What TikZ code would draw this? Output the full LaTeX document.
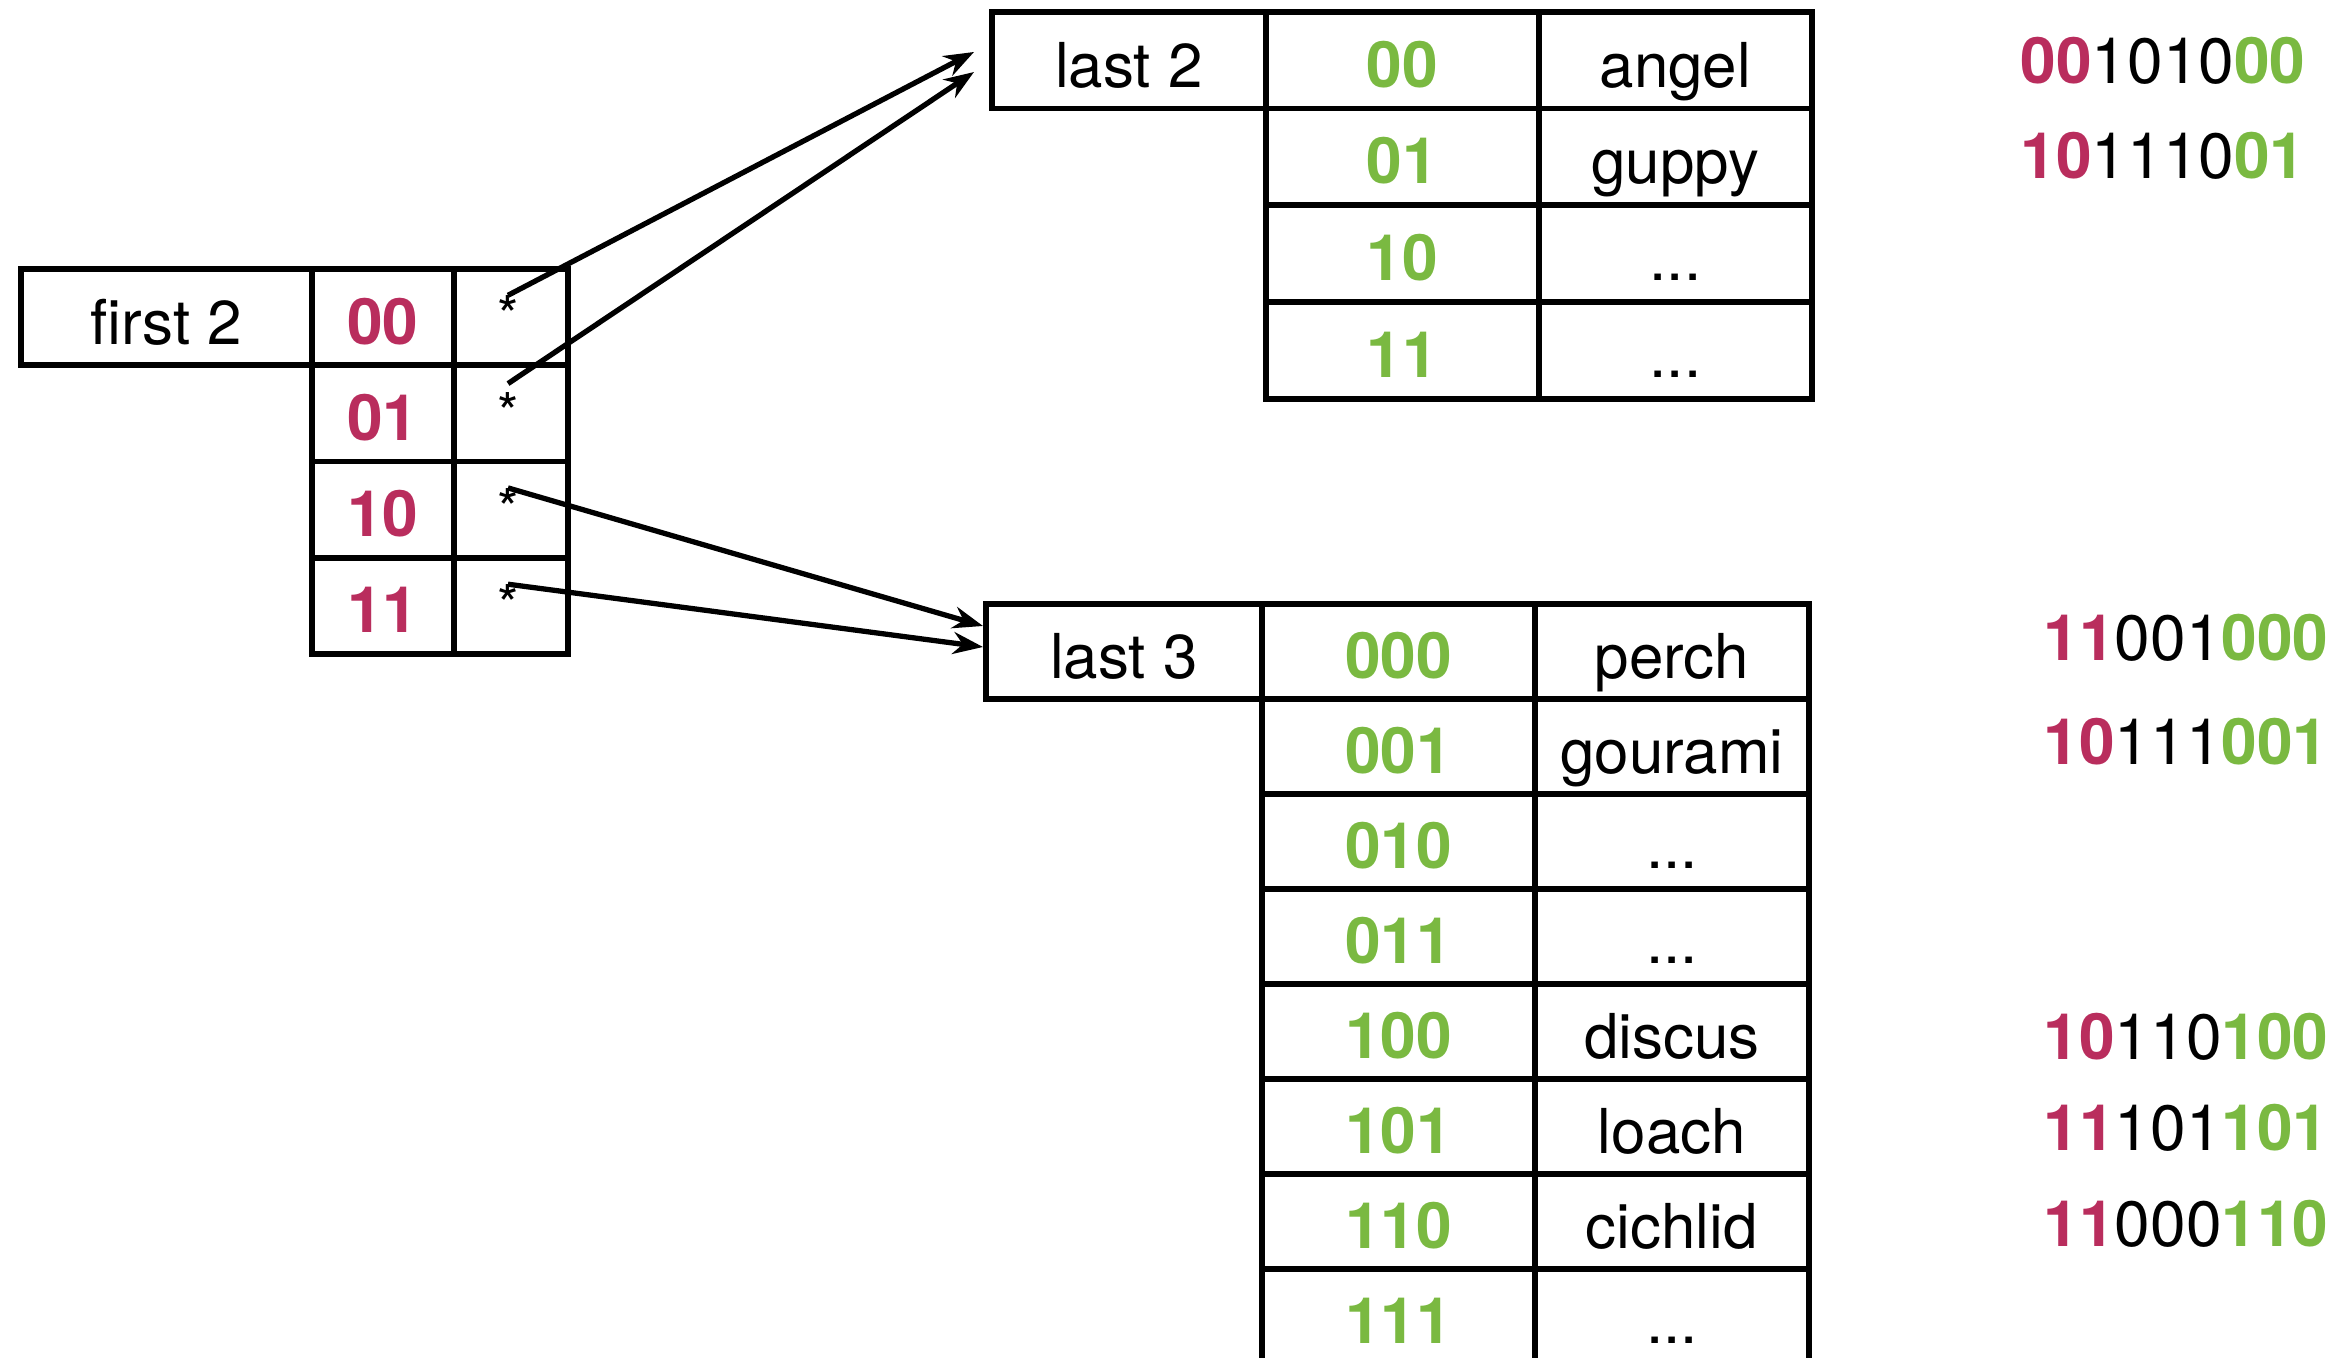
\documentclass[tikz,border=0pt]{standalone}
\usepackage{fontspec}
\setmainfont{TeX Gyre Heros}
\usetikzlibrary{arrows.meta,calc}
\definecolor{keyred}{HTML}{B92D5D}
\definecolor{keygreen}{HTML}{7AB941}
\newcommand\wordsz{\fontsize{17.6pt}{20pt}\selectfont}
\newcommand\digitsz{\fontsize{18.2pt}{21pt}\selectfont}
\newcommand\hi[2]{\textcolor{#1}{\bfseries #2}}
\newcommand\etcdots{...}

\begin{document}
\begin{tikzpicture}[x=0.01cm, y=-0.01cm,
  tcell/.style={draw, line width=1.6pt, inner sep=0pt, anchor=north west,
                text height=0.72cm, text depth=0.18cm, font=\wordsz},
  redkey/.style={tcell, font=\digitsz\bfseries, text=keyred},
  greenkey/.style={tcell, font=\digitsz\bfseries, text=keygreen},
  star/.style={anchor=base, inner sep=0pt, font=\fontsize{15.6pt}{18pt}\selectfont},
  ptr/.style={line width=1.5pt, -{Stealth[length=0.3cm, width=0.22cm]}},
  code/.style={anchor=base west, inner sep=0pt, font=\digitsz}]

\useasboundingbox (0,0) rectangle (2350,1358);

% directory indexed by the first two bits
\node[tcell, minimum width=2.91cm, minimum height=0.963cm] (first) at (18,266) {first 2};
\foreach \k [count=\i from 0] in {00,01,10,11} {
  \node[redkey, minimum width=1.42cm, minimum height=0.963cm] (k\i) at (309,{266+96.3*\i}) {\k};
  \node[tcell, minimum width=1.14cm, minimum height=0.963cm] (p\i) at (451,{266+96.3*\i}) {};
  \node[star] (s\i) at (508,{336+96.3*\i}) {*};
}

% bucket table indexed by the last two bits
\node[tcell, minimum width=2.74cm, minimum height=0.9675cm] (last2) at (989,9) {last 2};
\foreach \k/\v [count=\i from 0] in {00/angel,01/guppy,10/\etcdots,11/\etcdots} {
  \node[greenkey, minimum width=2.73cm, minimum height=0.9675cm] (tk\i) at (1263,{9+96.75*\i}) {\k};
  \node[tcell, minimum width=2.73cm, minimum height=0.9675cm] (tv\i) at (1536,{9+96.75*\i}) {\v};
}

% bucket table indexed by the last three bits
\node[tcell, minimum width=2.76cm, minimum height=0.95cm] (last3) at (983,601) {last 3};
\foreach \k/\v [count=\i from 0] in {000/perch,001/gourami,010/\etcdots,011/\etcdots,100/discus,101/loach,110/cichlid,111/\etcdots} {
  \node[greenkey, minimum width=2.73cm, minimum height=0.95cm] (bk\i) at (1259,{601+95*\i}) {\k};
  \node[tcell, minimum width=2.74cm, minimum height=0.95cm] (bv\i) at (1532,{601+95*\i}) {\v};
}

% pointers from the directory to the buckets
\coordinate (in1) at (974,52);
\coordinate (in2) at (974,72);
\coordinate (in3) at (983,626);
\coordinate (in4) at (983,647);
\draw[ptr] (s0.north) -- (in1);
\draw[ptr] ([yshift=0.08cm]s1.north) -- (in2);
\draw[ptr] (s2.north) -- (in3);
\draw[ptr] (s3.north) -- (in4);

% hashed keys
\node[code] (c1) at (2020,84)   {\hi{keyred}{00}1010\hi{keygreen}{00}};
\node[code] (c2) at (2020,179)  {\hi{keyred}{10}1110\hi{keygreen}{01}};
\node[code] (c3) at (2043,661)  {\hi{keyred}{11}001\hi{keygreen}{000}};
\node[code] (c4) at (2043,765)  {\hi{keyred}{10}111\hi{keygreen}{001}};
\node[code] (c5) at (2043,1060) {\hi{keyred}{10}110\hi{keygreen}{100}};
\node[code] (c6) at (2043,1150) {\hi{keyred}{11}101\hi{keygreen}{101}};
\node[code] (c7) at (2043,1246) {\hi{keyred}{11}000\hi{keygreen}{110}};
\end{tikzpicture}
\end{document}
